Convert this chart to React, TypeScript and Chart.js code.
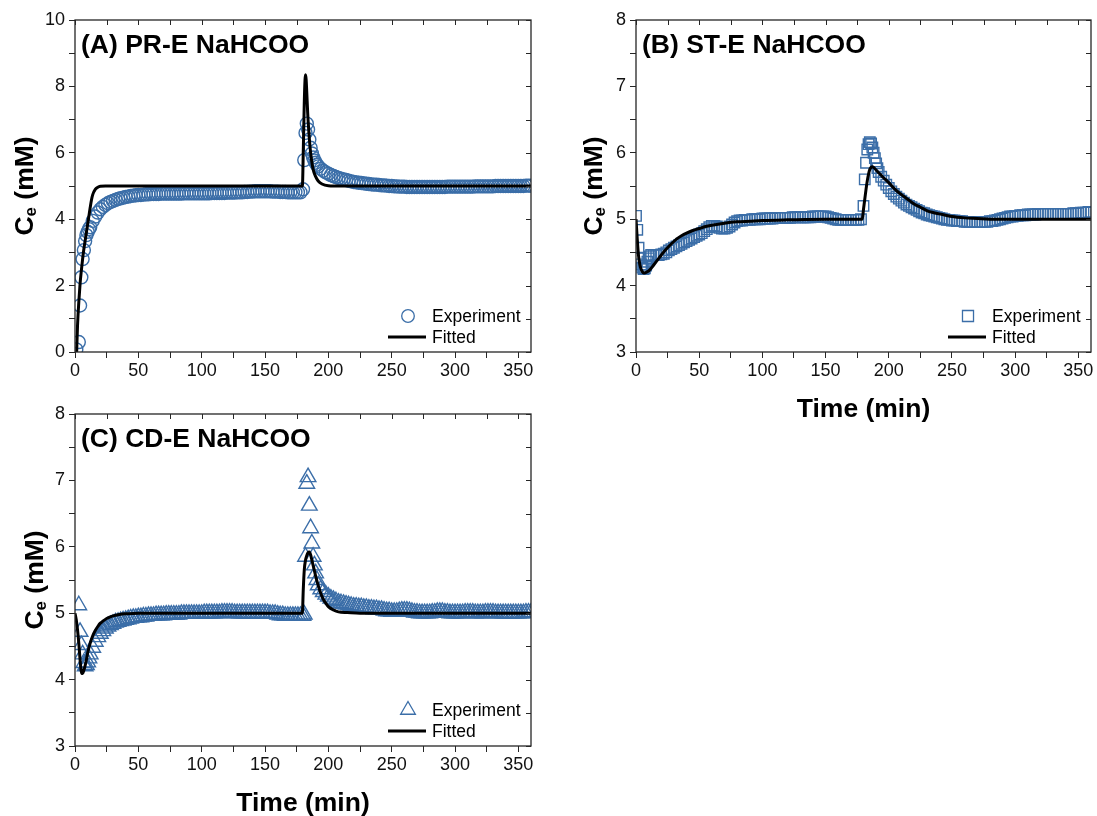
import React, { useEffect, useRef } from 'react';
import { Chart, registerables } from 'chart.js';

Chart.register(...registerables);

const FONT = "'Liberation Sans', Arial, Helvetica, sans-serif";
const BLUE = '#3B6EA8';
const AXIS = '#262626';

// ---------- shared experiment time grid (min) ----------
const expTime = [
  0, 1, 2, 3, 4, 5, 6, 7, 8, 9, 10, 11, 12,
  14, 16, 18, 20, 22, 24, 26, 28, 30, 32,
  34, 36, 38, 40, 42, 44, 46, 48, 50, 52,
  54, 56, 58, 60, 62, 64, 66, 68, 70, 72,
  74, 76, 78, 80, 82, 84, 86, 88, 90, 92,
  94, 96, 98, 100, 102, 104, 106, 108, 110, 112,
  114, 116, 118, 120, 122, 124, 126, 128, 130, 132,
  134, 136, 138, 140, 142, 144, 146, 148, 150, 152,
  154, 156, 158, 160, 162, 164, 166, 168, 170, 172,
  174, 176, 178,
  180, 181, 182, 183, 184, 185, 186, 187, 188, 189, 190, 191, 192,
  194, 196, 198, 200, 202, 204, 206, 208, 210, 212,
  214, 216, 218, 220, 222, 224, 226, 228, 230, 232,
  234, 236, 238, 240, 242, 244, 246, 248, 250, 252,
  254, 256, 258, 260, 262, 264, 266, 268, 270, 272,
  274, 276, 278, 280, 282, 284, 286, 288, 290, 292,
  294, 296, 298, 300, 302, 304, 306, 308, 310, 312,
  314, 316, 318, 320, 322, 324, 326, 328, 330, 332,
  334, 336, 338, 340, 342, 344, 346, 348, 350, 352,
  354, 356, 358, 360,
];

// ---------- (A) PR-E experiment ----------
const expA = [
  null, 0.08, null, 0.3, 1.4, 2.25, 2.8, 3.07, 3.34, 3.52, 3.62, 3.7, 3.76,
  3.95, 4.08, 4.2, 4.3, 4.37, 4.43, 4.48, 4.52, 4.55, 4.58,
  4.61, 4.63, 4.65, 4.67, 4.68, 4.7, 4.71, 4.72, 4.73, 4.73,
  4.74, 4.75, 4.75, 4.76, 4.76, 4.76, 4.76, 4.77, 4.77, 4.77,
  4.77, 4.77, 4.77, 4.77, 4.77, 4.77, 4.78, 4.78, 4.78, 4.78,
  4.78, 4.78, 4.78, 4.78, 4.78, 4.78, 4.78, 4.79, 4.79, 4.79,
  4.79, 4.79, 4.79, 4.8, 4.8, 4.8, 4.8, 4.81, 4.81, 4.81,
  4.82, 4.82, 4.83, 4.83, 4.84, 4.84, 4.84, 4.84, 4.84, 4.84,
  4.84, 4.83, 4.83, 4.83, 4.82, 4.82, 4.82, 4.81, 4.81, 4.81,
  4.81, 4.81, 4.81,
  4.9, 5.78, 6.6, 6.88, 6.7, 6.4, 6.15, 5.98, 5.86, 5.77, 5.7, 5.64, 5.59,
  5.52, 5.46, 5.41, 5.37, 5.33, 5.3, 5.27, 5.24, 5.22, 5.2,
  5.18, 5.16, 5.14, 5.12, 5.11, 5.1, 5.09, 5.08, 5.07, 5.06,
  5.05, 5.04, 5.04, 5.03, 5.02, 5.02, 5.01, 5.0, 5.0, 4.99,
  4.99, 4.98, 4.98, 4.98, 4.97, 4.97, 4.97, 4.97, 4.97, 4.97,
  4.97, 4.97, 4.97, 4.97, 4.97, 4.97, 4.97, 4.97, 4.97, 4.97,
  4.98, 4.98, 4.98, 4.98, 4.98, 4.98, 4.98, 4.98, 4.98, 4.98,
  4.98, 4.99, 4.99, 4.99, 4.99, 4.99, 4.99, 4.99, 4.99, 5.0,
  5.0, 5.0, 5.0, 5.0, 5.0, 5.0, 5.0, 5.0, 5.0, 5.0,
  5.0, 5.01, 5.01, 5.01,
];

// ---------- (B) ST-E experiment ----------
const expB = [
  5.05, 4.84, 4.57, 4.42, 4.32, 4.27, 4.25, 4.26, 4.3, 4.36, 4.41, 4.44, 4.46,
  4.46, 4.46, 4.46, 4.47, 4.48, 4.5, 4.53, 4.55, 4.57, 4.59,
  4.61, 4.63, 4.65, 4.67, 4.69, 4.71, 4.73, 4.75, 4.77, 4.79,
  4.82, 4.85, 4.88, 4.9, 4.9, 4.89, 4.87, 4.86, 4.86, 4.87,
  4.89, 4.92, 4.95, 4.97, 4.98, 4.98, 4.99, 4.99, 4.99, 5.0,
  5.0, 5.0, 5.0, 5.01, 5.01, 5.01, 5.01, 5.01, 5.02, 5.02,
  5.02, 5.02, 5.02, 5.02, 5.02, 5.03, 5.03, 5.03, 5.03, 5.03,
  5.03, 5.03, 5.03, 5.04, 5.04, 5.04, 5.04, 5.04, 5.04, 5.03,
  5.02, 5.01, 5.0, 4.99, 4.99, 4.99, 4.99, 4.99, 4.99, 4.99,
  4.99, 4.99, 5.0,
  5.2, 5.6, 5.85, 6.05, 6.13, 6.16, 6.14, 6.08, 6.0, 5.92, 5.84, 5.77, 5.71,
  5.64, 5.58, 5.52, 5.47, 5.42, 5.38, 5.34, 5.31, 5.28, 5.25,
  5.22, 5.2, 5.18, 5.16, 5.14, 5.12, 5.1, 5.09, 5.07, 5.06,
  5.05, 5.04, 5.03, 5.02, 5.01, 5.0, 4.99, 4.99, 4.98, 4.98,
  4.97, 4.97, 4.97, 4.96, 4.96, 4.96, 4.96, 4.96, 4.96, 4.96,
  4.96, 4.96, 4.96, 4.97, 4.97, 4.98, 4.99, 5.0, 5.01, 5.02,
  5.03, 5.04, 5.04, 5.05, 5.05, 5.06, 5.06, 5.06, 5.07, 5.07,
  5.07, 5.07, 5.08, 5.08, 5.08, 5.08, 5.08, 5.08, 5.08, 5.08,
  5.08, 5.08, 5.08, 5.08, 5.08, 5.08, 5.09, 5.09, 5.09, 5.1,
  5.1, 5.1, 5.11, 5.11,
];

// ---------- (C) CD-E experiment ----------
const expC = [
  null, null, null, 5.12, 4.72, 4.52, 4.38, 4.25, 4.2, 4.22, 4.26, 4.32, 4.38,
  4.48, 4.57, 4.64, 4.69, 4.73, 4.77, 4.8, 4.82, 4.84, 4.86,
  4.87, 4.88, 4.89, 4.9, 4.91, 4.92, 4.93, 4.93, 4.94, 4.94,
  4.95, 4.95, 4.96, 4.96, 4.96, 4.97, 4.97, 4.97, 4.97, 4.98,
  4.98, 4.98, 4.98, 4.98, 4.98, 4.99, 4.99, 4.99, 4.99, 4.99,
  4.99, 4.99, 4.99, 4.99, 5.0, 5.0, 5.0, 5.0, 5.0, 5.0,
  5.0, 5.01, 5.01, 5.01, 5.01, 5.01, 5.0, 5.0, 5.0, 5.0,
  5.0, 5.0, 5.0, 5.0, 5.0, 5.0, 5.0, 5.0, 5.0, 5.0,
  4.99, 4.99, 4.99, 4.98, 4.97, 4.97, 4.96, 4.96, 4.96, 4.96,
  4.96, 4.96, 4.96,
  4.96, 4.98, 5.85, 6.95, 7.05, 6.62, 6.28, 6.05, 5.85, 5.72, 5.6, 5.5, 5.42,
  5.36, 5.32, 5.28, 5.25, 5.22, 5.2, 5.18, 5.16, 5.15, 5.14,
  5.13, 5.12, 5.11, 5.1, 5.1, 5.09, 5.09, 5.08, 5.08, 5.07,
  5.07, 5.06, 5.06, 5.05, 5.05, 5.04, 5.03, 5.03, 5.02, 5.02,
  5.02, 5.03, 5.04, 5.04, 5.04, 5.03, 5.02, 5.01, 5.01, 5.0,
  5.0, 5.0, 5.0, 5.0, 5.01, 5.01, 5.02, 5.02, 5.02, 5.01,
  5.01, 5.0, 5.0, 5.0, 5.0, 5.0, 5.0, 5.01, 5.01, 5.01,
  5.01, 5.0, 5.0, 5.0, 5.0, 5.01, 5.01, 5.01, 5.01, 5.0,
  5.0, 5.0, 5.0, 5.0, 5.0, 5.0, 5.0, 5.0, 5.0, 5.0,
  5.0, 5.01, 5.01, 5.01,
];

// ---------- fitted curves ----------
const fitATime = [1.3, 2, 3, 4, 5, 6, 7, 8, 9, 10, 11, 12, 13, 14, 16, 18, 20, 24, 30, 90,
  179.5, 180.3, 181, 181.6, 182, 182.5, 183, 183.7, 184.5, 185.5, 186.5,
  188, 190, 192, 195, 200, 210, 260, 360];
const fitAValue = [0, 0.8, 1.5, 2.05, 2.45, 2.8, 3.1, 3.35, 3.6, 3.85, 4.1, 4.35, 4.58, 4.74, 4.9, 4.96, 4.99, 5.0, 5.0, 5.0,
  5.0, 6.2, 7.5, 8.2, 8.35, 8.2, 7.8, 7.2, 6.7, 6.2, 5.85,
  5.5, 5.28, 5.15, 5.06, 5.01, 5.0, 5.0, 5.0];

const fitBTime = [0, 1, 2, 3, 4, 5, 6, 7, 8, 9, 10, 12, 14, 16, 18, 20, 24, 28, 32, 36, 40, 45, 50, 55, 60,
  70, 80, 90, 100, 120, 150, 179, 180, 181, 182, 183, 184, 185, 186, 187, 188, 190, 192, 195,
  200, 205, 210, 215, 220, 225, 230, 235, 240, 245, 250, 260, 270, 280, 360];
const fitBValue = [5.0, 4.7, 4.45, 4.32, 4.25, 4.21, 4.19, 4.19, 4.2, 4.21, 4.22, 4.26, 4.31, 4.36, 4.41, 4.46, 4.55, 4.63, 4.7, 4.75, 4.79, 4.83, 4.86, 4.89, 4.91,
  4.94, 4.96, 4.97, 4.98, 4.99, 5.0, 5.0, 5.15, 5.3, 5.45, 5.58, 5.68, 5.75, 5.78, 5.79, 5.78, 5.74, 5.7, 5.64,
  5.55, 5.45, 5.37, 5.3, 5.23, 5.18, 5.13, 5.1, 5.08, 5.06, 5.04, 5.02, 5.01, 5.0, 5.0];

const fitCTime = [0, 1, 2, 3, 4, 5, 6, 7, 8, 9, 10, 11, 12, 14, 16, 18, 20, 22, 25, 30, 35, 40, 50, 100,
  179.5, 180.2, 181, 182, 183, 184, 185, 186, 187, 188, 189, 190, 192, 194, 196, 198, 200,
  204, 208, 215, 225, 360];
const fitCValue = [5.0, 4.9, 4.75, 4.55, 4.3, 4.12, 4.09, 4.14, 4.21, 4.3, 4.4, 4.48, 4.55, 4.66, 4.74, 4.8, 4.85, 4.88, 4.92, 4.96, 4.98, 4.99, 5.0, 5.0,
  5.0, 5.35, 5.65, 5.8, 5.87, 5.91, 5.92, 5.88, 5.8, 5.72, 5.64, 5.56, 5.42, 5.3, 5.21, 5.15, 5.1,
  5.05, 5.02, 5.01, 5.0, 5.0];

// ---------- ticks ----------
const xTickValues = [0, 25, 50, 75, 100, 125, 150, 175, 200, 225, 250, 275, 300, 325, 350];
const xLabelStep = 50;
const yTicksA = [0, 1, 2, 3, 4, 5, 6, 7, 8, 9, 10];
const yTicksBC = [3, 3.5, 4, 4.5, 5, 5.5, 6, 6.5, 7, 7.5, 8];

const PANELS = [
  {
    key: 'A', title: '(A) PR-E NaHCOO', expY: expA, fitT: fitATime, fitY: fitAValue,
    yMin: 0, yMax: 10, yTicks: yTicksA, yLabelStep: 2,
    pointStyle: 'circle', pointRadius: 6.5, legendRadius: 6.3, xTitle: false, yTitleGap: 42,
    box: { left: 0, top: 0, width: 548, height: 395 },
    area: { left: 75, top: 20, right: 531, bottom: 352 },
  },
  {
    key: 'B', title: '(B) ST-E NaHCOO', expY: expB, fitT: fitBTime, fitY: fitBValue,
    yMin: 3, yMax: 8, yTicks: yTicksBC, yLabelStep: 1,
    pointStyle: 'rect', pointRadius: 7.4, legendRadius: 7.8, xTitle: true, yTitleGap: 34,
    box: { left: 560, top: 0, width: 537, height: 430 },
    area: { left: 636, top: 20, right: 1091, bottom: 352 },
  },
  {
    key: 'C', title: '(C) CD-E NaHCOO', expY: expC, fitT: fitCTime, fitY: fitCValue,
    yMin: 3, yMax: 8, yTicks: yTicksBC, yLabelStep: 1,
    pointStyle: 'triangle', pointRadius: 9, legendRadius: 8.5, xTitle: true, yTitleGap: 32,
    box: { left: 0, top: 395, width: 548, height: 421 },
    area: { left: 75, top: 414, right: 531, bottom: 746 },
  },
];

function isMultiple(v: number, step: number) {
  const r = v / step;
  return Math.abs(r - Math.round(r)) < 1e-9;
}

function drawMarker(ctx: CanvasRenderingContext2D, style: string, x: number, y: number, r: number) {
  ctx.beginPath();
  if (style === 'circle') {
    ctx.arc(x, y, r, 0, Math.PI * 2);
  } else if (style === 'rect') {
    const s = r * Math.SQRT1_2;
    ctx.rect(x - s, y - s, 2 * s, 2 * s);
  } else {
    let rad = 0;
    ctx.moveTo(x + Math.sin(rad) * r, y - Math.cos(rad) * r);
    rad += (2 * Math.PI) / 3;
    ctx.lineTo(x + Math.sin(rad) * r, y - Math.cos(rad) * r);
    rad += (2 * Math.PI) / 3;
    ctx.lineTo(x + Math.sin(rad) * r, y - Math.cos(rad) * r);
    ctx.closePath();
  }
  ctx.stroke();
}

function makeOverlay(cfg: any) {
  return {
    id: 'overlay' + cfg.key,
    afterDraw(chart: any) {
      const ctx: CanvasRenderingContext2D = chart.ctx;
      const a = chart.chartArea;
      const xs = chart.scales.x;
      const ys = chart.scales.y;
      ctx.save();
      // frame
      ctx.strokeStyle = AXIS;
      ctx.lineWidth = 1.3;
      ctx.strokeRect(a.left, a.top, a.right - a.left, a.bottom - a.top);
      // inward ticks on top and right axes
      ctx.lineWidth = 1;
      ctx.beginPath();
      for (const v of xTickValues) {
        const px = Math.round(xs.getPixelForValue(v)) + 0.5;
        ctx.moveTo(px, a.top);
        ctx.lineTo(px, a.top + 5);
      }
      for (const v of cfg.yTicks) {
        const py = Math.round(ys.getPixelForValue(v)) + 0.5;
        ctx.moveTo(a.right, py);
        ctx.lineTo(a.right - 5, py);
      }
      ctx.stroke();

      ctx.fillStyle = '#000';
      // panel title
      ctx.font = `bold 26.5px ${FONT}`;
      ctx.textAlign = 'left';
      ctx.textBaseline = 'alphabetic';
      ctx.fillText(cfg.title, a.left + 6, a.top + 33);

      // y title  C_e (mM)
      ctx.save();
      const cy = (a.top + a.bottom) / 2;
      const bx = a.left - cfg.yTitleGap;
      ctx.translate(bx, cy);
      ctx.rotate(-Math.PI / 2);
      const big = `bold 26.5px ${FONT}`;
      const small = `bold 17px ${FONT}`;
      ctx.font = big;
      const wC = ctx.measureText('C').width;
      const wRest = ctx.measureText(' (mM)').width;
      ctx.font = small;
      const wE = ctx.measureText('e').width;
      let tx = -(wC + wE + wRest) / 2;
      ctx.font = big;
      ctx.fillText('C', tx, 0);
      tx += wC;
      ctx.font = small;
      ctx.fillText('e', tx, 3);
      tx += wE;
      ctx.font = big;
      ctx.fillText(' (mM)', tx, 0);
      ctx.restore();

      // x title
      if (cfg.xTitle) {
        ctx.font = `bold 26.5px ${FONT}`;
        ctx.textAlign = 'center';
        ctx.fillText('Time (min)', (a.left + a.right) / 2, a.bottom + 65);
      }

      // legend
      const r1 = a.bottom - 36;
      const r2 = a.bottom - 15;
      ctx.strokeStyle = BLUE;
      ctx.lineWidth = 1.3;
      drawMarker(ctx, cfg.pointStyle, a.right - 123, r1, cfg.legendRadius);
      ctx.strokeStyle = '#000';
      ctx.lineWidth = 3;
      ctx.beginPath();
      ctx.moveTo(a.right - 143, r2);
      ctx.lineTo(a.right - 105, r2);
      ctx.stroke();
      ctx.font = `17.5px ${FONT}`;
      ctx.textAlign = 'left';
      ctx.textBaseline = 'middle';
      ctx.fillStyle = '#000';
      ctx.fillText('Experiment', a.right - 99, r1 + 1);
      ctx.fillText('Fitted', a.right - 99, r2 + 1);
      ctx.restore();
    },
  };
}

function buildConfig(cfg: any): any {
  const { box, area } = cfg;
  const expData = expTime
    .map((t, i) => ({ x: t, y: cfg.expY[i] }))
    .filter((p) => p.y !== null && p.y !== undefined);
  const fitData = cfg.fitT.map((t: number, i: number) => ({ x: t, y: cfg.fitY[i] }));
  return {
    type: 'scatter',
    data: {
      datasets: [
        {
          label: 'Fitted',
          data: fitData,
          showLine: true,
          borderColor: '#000',
          borderWidth: 3,
          borderJoinStyle: 'round',
          pointRadius: 0,
          pointHoverRadius: 0,
          cubicInterpolationMode: 'monotone',
          order: 0,
        },
        {
          label: 'Experiment',
          data: expData,
          showLine: false,
          pointStyle: cfg.pointStyle,
          pointRadius: cfg.pointRadius,
          pointHoverRadius: cfg.pointRadius,
          pointBorderWidth: 1.4,
          pointBorderColor: BLUE,
          pointBackgroundColor: 'rgba(0,0,0,0)',
          borderColor: BLUE,
          backgroundColor: 'rgba(0,0,0,0)',
          order: 1,
        },
      ],
    },
    options: {
      animation: false,
      responsive: false,
      maintainAspectRatio: false,
      events: [],
      layout: {
        autoPadding: false,
        padding: {
          top: area.top - box.top,
          right: box.left + box.width - area.right,
          left: 0,
          bottom: 0,
        },
      },
      plugins: {
        legend: { display: false },
        tooltip: { enabled: false },
        title: { display: false },
      },
      scales: {
        x: {
          type: 'linear',
          position: 'bottom',
          min: 0,
          max: 360,
          afterBuildTicks: (s: any) => {
            s.ticks = xTickValues.map((v) => ({ value: v }));
          },
          afterFit: (s: any) => {
            s.height = box.top + box.height - area.bottom;
          },
          ticks: {
            autoSkip: false,
            maxRotation: 0,
            padding: 2,
            color: '#111',
            font: { family: FONT, size: 18 },
            callback: (v: number) => (isMultiple(v, xLabelStep) ? String(v) : ''),
          },
          grid: {
            display: true,
            drawOnChartArea: false,
            drawTicks: true,
            tickLength: 6,
            tickWidth: 1,
            tickColor: AXIS,
            color: AXIS,
          },
          border: { display: false },
        },
        y: {
          type: 'linear',
          position: 'left',
          min: cfg.yMin,
          max: cfg.yMax,
          afterBuildTicks: (s: any) => {
            s.ticks = cfg.yTicks.map((v: number) => ({ value: v }));
          },
          afterFit: (s: any) => {
            s.width = area.left - box.left;
          },
          ticks: {
            autoSkip: false,
            padding: 4,
            color: '#111',
            font: { family: FONT, size: 18 },
            callback: (v: number) => (isMultiple(v, cfg.yLabelStep) ? String(v) : ''),
          },
          grid: {
            display: true,
            drawOnChartArea: false,
            drawTicks: true,
            tickLength: 6,
            tickWidth: 1,
            tickColor: AXIS,
            color: AXIS,
          },
          border: { display: false },
        },
      },
    },
    plugins: [makeOverlay(cfg)],
  };
}

function Panel({ cfg }: { cfg: any }) {
  const ref = useRef<HTMLCanvasElement | null>(null);
  useEffect(() => {
    if (!ref.current) return;
    const chart = new Chart(ref.current, buildConfig(cfg));
    return () => chart.destroy();
  }, [cfg]);
  const { box } = cfg;
  return (
    <canvas
      ref={ref}
      width={box.width}
      height={box.height}
      style={{
        position: 'absolute',
        left: box.left,
        top: box.top,
        width: box.width,
        height: box.height,
        display: 'block',
      }}
    />
  );
}

export default function App() {
  return (
    <div
      style={{
        position: 'absolute',
        left: 0,
        top: 0,
        width: 1097,
        height: 816,
        background: '#fff',
        overflow: 'hidden',
      }}
    >
      {PANELS.map((p) => (
        <Panel key={p.key} cfg={p} />
      ))}
    </div>
  );
}
